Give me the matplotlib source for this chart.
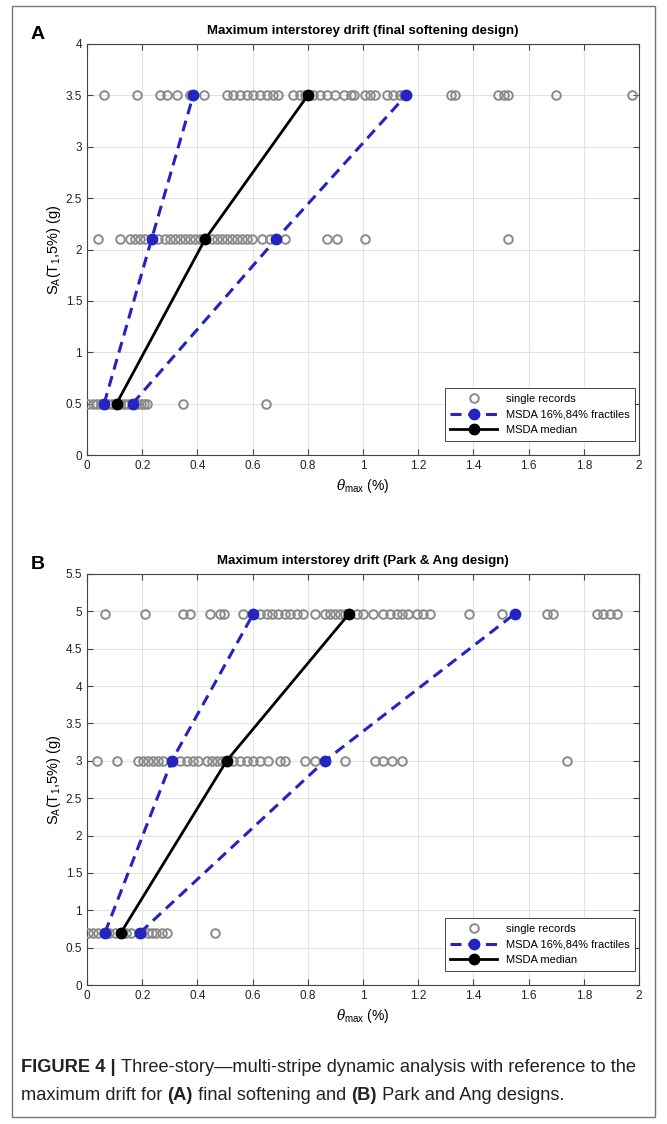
import matplotlib
matplotlib.use('Agg')
from matplotlib import pyplot as plt
from matplotlib.lines import Line2D
from matplotlib.patches import Rectangle
from matplotlib.ticker import FormatStrFormatter, MultipleLocator

# ---- panel A: final softening design ----
sa_A = [0.5, 2.1, 3.5]
rec_A = {
    0.5: [0.005, 0.02, 0.035, 0.05, 0.062, 0.075, 0.09, 0.107, 0.12, 0.135,
          0.15, 0.165, 0.18, 0.195, 0.205, 0.216, 0.347, 0.649],
    2.1: [0.041, 0.12, 0.156, 0.174, 0.192, 0.21, 0.234, 0.258, 0.283, 0.30,
          0.319, 0.337, 0.355, 0.373, 0.391, 0.409, 0.428, 0.452, 0.47, 0.488,
          0.506, 0.524, 0.543, 0.561, 0.579, 0.597, 0.633, 0.663, 0.685, 0.717,
          0.868, 0.905, 1.007, 1.527],
    3.5: [0.062, 0.182, 0.264, 0.291, 0.325, 0.373, 0.385, 0.424, 0.506, 0.53,
          0.554, 0.578, 0.602, 0.626, 0.651, 0.675, 0.693, 0.747, 0.771, 0.79,
          0.80, 0.82, 0.845, 0.87, 0.90, 0.93, 0.955, 0.967, 1.007, 1.025,
          1.043, 1.086, 1.11, 1.134, 1.15, 1.318, 1.333, 1.49, 1.51, 1.525,
          1.698, 1.973],
}
f16_A = [0.062, 0.234, 0.385]
med_A = [0.107, 0.428, 0.80]
f84_A = [0.165, 0.685, 1.156]

# ---- panel B: Park & Ang design ----
sa_B = [0.7, 3.0, 4.97]
rec_B = {
    0.7: [0.005, 0.02, 0.04, 0.06, 0.08, 0.1, 0.123, 0.14, 0.16, 0.19, 0.2,
          0.22, 0.235, 0.25, 0.27, 0.289, 0.464],
    3.0: [0.035, 0.107, 0.186, 0.204, 0.222, 0.24, 0.258, 0.277, 0.307, 0.337,
          0.361, 0.385, 0.403, 0.434, 0.452, 0.47, 0.488, 0.506, 0.53, 0.554,
          0.579, 0.603, 0.627, 0.657, 0.699, 0.717, 0.79, 0.826, 0.862, 0.935,
          1.043, 1.074, 1.104, 1.14, 1.74],
    4.97: [0.065, 0.21, 0.349, 0.373, 0.446, 0.482, 0.496, 0.566, 0.603, 0.627,
           0.651, 0.669, 0.693, 0.717, 0.736, 0.76, 0.784, 0.826, 0.862, 0.88,
           0.899, 0.917, 0.935, 0.95, 0.977, 1.0, 1.037, 1.074, 1.098, 1.122,
           1.14, 1.164, 1.194, 1.219, 1.243, 1.385, 1.502, 1.551, 1.666, 1.69,
           1.847, 1.871, 1.895, 1.919],
}
f16_B = [0.065, 0.307, 0.603]
med_B = [0.123, 0.506, 0.95]
f84_B = [0.192, 0.862, 1.551]

titles = ['Maximum interstorey drift (final softening design)',
          'Maximum interstorey drift (Park & Ang design)']
ymax = [4, 5.5]
legend_labels = ['single records', 'MSDA 16%,84% fractiles', 'MSDA median']

GRAY = '#8a8a8a'
BLUE = '#2424c0'
AXC = '#444444'

plt.rcParams['font.family'] = ['Liberation Sans', 'DejaVu Sans']
plt.rcParams['mathtext.fontset'] = 'custom'
plt.rcParams['mathtext.rm'] = 'Liberation Sans'
plt.rcParams['mathtext.it'] = 'DejaVu Serif:italic'

fig = plt.figure(figsize=(6.67, 11.24), dpi=100)


def draw_panel(ax, sa, rec, f16, med, f84, title, top, letter):
    for y, xs in rec.items():
        ax.plot(xs, [y] * len(xs), 'o', ls='none', mfc='none', mec=GRAY,
                ms=6.2, mew=1.4, zorder=3)
    for f in (f16, f84):
        ax.plot(f, sa, color=BLUE, lw=2.2, dashes=(3.6, 2.2), marker='o',
                ms=7.5, mfc=BLUE, mec=BLUE, zorder=4)
    ax.plot(med, sa, color='black', lw=2.0, marker='o', ms=7.5,
            mfc='black', mec='black', zorder=5)

    ax.set_xlim(0, 2)
    ax.set_ylim(0, top)
    ax.xaxis.set_major_locator(MultipleLocator(0.2))
    ax.yaxis.set_major_locator(MultipleLocator(0.5))
    ax.xaxis.set_major_formatter(FormatStrFormatter('%g'))
    ax.yaxis.set_major_formatter(FormatStrFormatter('%g'))
    ax.grid(True, color='#e3e3e3', lw=0.8)
    ax.set_axisbelow(True)
    ax.tick_params(direction='in', top=True, right=True, length=4,
                   labelsize=8.5, colors=AXC, labelcolor='#222222', width=0.8)
    for s in ax.spines.values():
        s.set_color(AXC)
        s.set_linewidth(0.8)

    ax.set_title(title, fontsize=9.5, fontweight='bold', pad=7)
    ax.set_xlabel(r'$\theta_{\rm max}$ (%)', fontsize=10, labelpad=4)
    ax.set_ylabel(r'S$_{\rm A}$(T$_1$,5%) (g)', fontsize=10.5, labelpad=2)
    ax.text(-0.09, 1.022, letter, transform=ax.transAxes, fontsize=14,
            fontweight='bold', ha='center', va='center')

    handles = [
        Line2D([], [], ls='none', marker='o', mfc='none', mec=GRAY, ms=6.2,
               mew=1.4),
        Line2D([], [], color=BLUE, lw=2.2, dashes=(3.6, 2.2), marker='o',
               ms=7.5, mfc=BLUE, mec=BLUE),
        Line2D([], [], color='black', lw=2.0, marker='o', ms=7.5,
               mfc='black', mec='black'),
    ]
    leg = ax.legend(handles, legend_labels, loc='lower right',
                    bbox_to_anchor=(0.993, 0.035), borderaxespad=0,
                    fontsize=8, fancybox=False, framealpha=1,
                    handlelength=4.2, handletextpad=0.8, borderpad=0.5,
                    labelspacing=0.5)
    leg.get_frame().set_edgecolor(AXC)
    leg.get_frame().set_linewidth(0.7)


axA = fig.add_axes([87 / 667, 1 - 455 / 1124, 552 / 667, 411 / 1124])
draw_panel(axA, sa_A, rec_A, f16_A, med_A, f84_A, titles[0], ymax[0], 'A')
axB = fig.add_axes([87 / 667, 1 - 985 / 1124, 552 / 667, 411 / 1124])
draw_panel(axB, sa_B, rec_B, f16_B, med_B, f84_B, titles[1], ymax[1], 'B')

# outer frame
fig.patches.append(Rectangle((12 / 667, 1 - 1117 / 1124), 643 / 667,
                             1111 / 1124, transform=fig.transFigure,
                             fill=False, edgecolor='#777777', lw=1.0))

# caption with bold runs
line1 = [('FIGURE 4 | ', 'bold'),
         ('Three-story\u2014multi-stripe dynamic analysis with reference to the',
          'normal')]
line2 = [('maximum drift for ', 'normal'), ('(A)', 'bold'),
         (' final softening and ', 'normal'), ('(B)', 'bold'),
         (' Park and Ang designs.', 'normal')]

renderer = fig.canvas.get_renderer()


def put_line(runs, y, size):
    x = 21 / 667
    for txt, w in runs:
        t = fig.text(x, y, txt, fontsize=size, fontweight=w, color='#222222',
                     va='center', ha='left')
        x += t.get_window_extent(renderer).width / fig.bbox.width


# size the caption so line 1 spans the same width as in the figure
probe = fig.text(0, 0, line1[0][0], fontsize=12, fontweight='bold')
probe2 = fig.text(0, 0, line1[1][0], fontsize=12)
w12 = (probe.get_window_extent(renderer).width
       + probe2.get_window_extent(renderer).width)
probe.remove()
probe2.remove()
csize = 12 * 615 / w12

put_line(line1, 1 - 1067 / 1124, csize)
put_line(line2, 1 - 1095 / 1124, csize)

fig.savefig('out.png', dpi=100)
